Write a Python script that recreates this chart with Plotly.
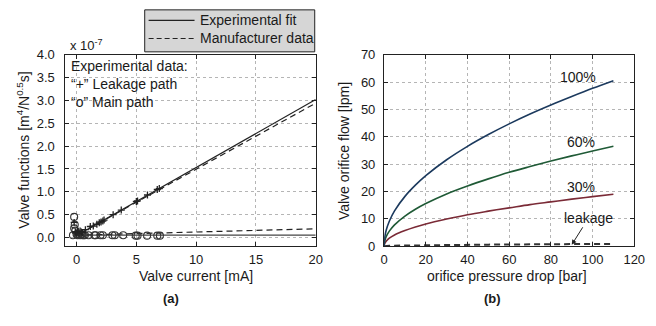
import plotly.graph_objects as go

# ---------------- (a) data (units of 1e-7) ----------------
leak_x = [-0.2, -0.1, 0.0, 0.1, 0.2, 0.3, 0.4, 0.5, 0.74, 1.15, 1.4, 1.7, 1.9, 2.05, 2.2, 2.3, 3.06, 3.74, 5.0, 5.1, 5.93, 6.75, 6.92]
leak_y = [0.33, 0.12, 0.10, 0.13, 0.10, 0.14, 0.12, 0.11, 0.17, 0.24, 0.25, 0.29, 0.32, 0.34, 0.36, 0.38, 0.50, 0.60, 0.79, 0.80, 0.93, 1.05, 1.07]
main_x = [-0.3, -0.2, -0.15, -0.2, -0.1, 0.0, 0.1, 0.2, 0.3, 0.4, 0.5, 0.6, 0.7, 1.0, 1.5, 1.6, 2.0, 2.2, 3.0, 3.2, 3.9, 4.95, 5.1, 5.9, 6.75, 6.97]
main_y = [0.05, 0.45, 0.28, 0.20, 0.15, 0.07, 0.05, 0.06, 0.05, 0.06, 0.05, 0.05, 0.05, 0.05, 0.05, 0.05, 0.05, 0.05, 0.05, 0.05, 0.05, 0.04, 0.04, 0.04, 0.04, 0.04]
fit_leak_x = [0.3, 20]
fit_leak_y = [0.085, 3.02]
fit_main_x = [-0.3, 20]
fit_main_y = [0.05, 0.05]
man_leak_x = [0.3, 20]
man_leak_y = [0.09, 2.94]
man_main_x = [0.0, 20]
man_main_y = [0.05, 0.19]

# ---------------- (b) data ----------------
dp = [0, 0.25, 1, 2.5, 5, 10, 15, 20, 30, 40, 50, 60, 70, 80, 90, 100, 110]
q100 = [0, 2.9, 5.8, 9.1, 12.9, 18.2, 22.3, 25.8, 31.6, 36.5, 40.8, 44.7, 48.3, 51.6, 54.7, 57.7, 60.5]
q60 = [0, 1.75, 3.5, 5.5, 7.8, 11.0, 13.5, 15.6, 19.1, 22.0, 24.6, 27.0, 29.1, 31.1, 33.0, 34.8, 36.5]
q30 = [0, 0.9, 1.8, 2.9, 4.1, 5.7, 7.0, 8.1, 9.9, 11.5, 12.8, 14.0, 15.2, 16.2, 17.2, 18.1, 19.0]
qleak = [0, 0.04, 0.08, 0.13, 0.18, 0.25, 0.31, 0.36, 0.44, 0.50, 0.56, 0.62, 0.67, 0.71, 0.76, 0.80, 0.84]

W, H = 656, 326
def px(x): return x / W
def py(y): return 1 - y / H

FONT = "Liberation Sans, Arial, sans-serif"
TXT = "#1a1a1a"

fig = go.Figure()
# (a)
fig.add_trace(go.Scatter(x=fit_main_x, y=fit_main_y, mode="lines", line=dict(color="#444", width=1.2), xaxis="x", yaxis="y"))
fig.add_trace(go.Scatter(x=man_main_x, y=man_main_y, mode="lines", line=dict(color="#222", width=1.2, dash="6px,4px"), xaxis="x", yaxis="y"))
fig.add_trace(go.Scatter(x=fit_leak_x, y=fit_leak_y, mode="lines", line=dict(color="#222", width=1.2), xaxis="x", yaxis="y"))
fig.add_trace(go.Scatter(x=man_leak_x, y=man_leak_y, mode="lines", line=dict(color="#222", width=1.2, dash="6px,4px"), xaxis="x", yaxis="y"))
fig.add_trace(go.Scatter(x=main_x, y=main_y, mode="markers",
                         marker=dict(symbol="circle-open", size=7, color="#333", line=dict(width=1.1)), xaxis="x", yaxis="y"))
fig.add_trace(go.Scatter(x=leak_x, y=leak_y, mode="markers",
                         marker=dict(symbol="cross-thin-open", size=5, color="#222", line=dict(width=1.3)), xaxis="x", yaxis="y"))
# (b)
fig.add_trace(go.Scatter(x=dp, y=qleak, mode="lines", line=dict(color="#333", width=2, dash="6px,4px"), xaxis="x2", yaxis="y2"))
fig.add_trace(go.Scatter(x=dp, y=q30, mode="lines", line=dict(color="#7a2a36", width=1.6, shape="spline"), xaxis="x2", yaxis="y2"))
fig.add_trace(go.Scatter(x=dp, y=q60, mode="lines", line=dict(color="#1f5a36", width=1.6, shape="spline"), xaxis="x2", yaxis="y2"))
fig.add_trace(go.Scatter(x=dp, y=q100, mode="lines", line=dict(color="#1c3a5e", width=1.6, shape="spline"), xaxis="x2", yaxis="y2"))

axis_common = dict(showline=True, linecolor="#222", linewidth=1.3, mirror="ticks", ticks="inside", ticklen=4,
                   tickcolor="#222", showgrid=True, gridcolor="#b5b5b5", griddash="dot", gridwidth=1,
                   zeroline=False, tickfont=dict(family=FONT, size=13, color=TXT))

fig.update_layout(
    width=W, height=H, margin=dict(l=0, r=0, t=0, b=0),
    paper_bgcolor="white", plot_bgcolor="white", showlegend=False,
    xaxis=dict(domain=[px(62), px(319)], range=[-1, 20], tickvals=[0, 5, 10, 15, 20], anchor="y",
               ticklabelstandoff=1, **axis_common),
    yaxis=dict(domain=[py(250.7), py(50)], range=[-0.19, 4.0], tickvals=[0, 0.5, 1, 1.5, 2, 2.5, 3, 3.5, 4],
               tickformat=".1f", anchor="x", ticklabelstandoff=6, **axis_common),
    xaxis2=dict(domain=[px(389), px(645)], range=[0, 120], tickvals=[0, 20, 40, 60, 80, 100, 120], anchor="y2",
                ticklabelstandoff=1, **axis_common),
    yaxis2=dict(domain=[py(250.7), py(50)], range=[0, 70], tickvals=[0, 10, 20, 30, 40, 50, 60, 70], anchor="x2",
                ticklabelstandoff=5, **axis_common),
)

def ann(text, x, y, size=14, xanchor="center", yanchor="middle", angle=0, bold=False, align="center"):
    if bold:
        text = "<b>" + text + "</b>"
    fig.add_annotation(text=text, x=px(x), y=py(y), xref="paper", yref="paper", showarrow=False,
                       xanchor=xanchor, yanchor=yanchor, textangle=angle, align=align,
                       font=dict(family=FONT, size=size, color=TXT))

# legend box (manual)
fig.add_shape(type="rect", xref="paper", yref="paper", x0=px(144), x1=px(318), y0=py(47), y1=py(3),
              fillcolor="#d6d6d6", line=dict(color="#222", width=1))
fig.add_shape(type="line", xref="paper", yref="paper", x0=px(148), x1=px(195), y0=py(14), y1=py(14),
              line=dict(color="#222", width=1.2))
fig.add_shape(type="line", xref="paper", yref="paper", x0=px(148), x1=px(195), y0=py(33), y1=py(33),
              line=dict(color="#222", width=1.2, dash="5px,3px"))
ann("Experimental fit", 199, 14, xanchor="left")
ann("Manufacturer data", 199, 33, xanchor="left")

ann("x 10<sup>-7</sup>", 65, 40, size=13, xanchor="left")
ann("Experimental data:<br>“+” Leakage path<br>“o” Main path", 67, 51, xanchor="left", yanchor="top", align="left")
ann("Valve functions [m<sup>4</sup>/N<sup>0.5</sup>s]", 20, 150, angle=-90)
ann("Valve current [mA]", 197, 282)
ann("(a)", 171, 306, size=13, bold=True)

ann("Valve orifice flow [lpm]", 348, 151, angle=-90)
ann("orifice pressure drop [bar]", 515, 282)
ann("(b)", 500, 306, size=13, bold=True)

ann("100%", 587, 73)
ann("60%", 591, 142)
ann("30%", 591, 189)
fig.add_annotation(text="leakage", x=90, y=0.5, xref="x2", yref="y2", showarrow=True,
                   ax=17, ay=-27, arrowhead=2, arrowsize=1, arrowwidth=1, arrowcolor="#222",
                   font=dict(family=FONT, size=14, color=TXT))

fig.write_html("out.html", config={"displayModeBar": False},
               post_script="document.body.style.margin='0px';document.body.style.overflow='hidden';")
